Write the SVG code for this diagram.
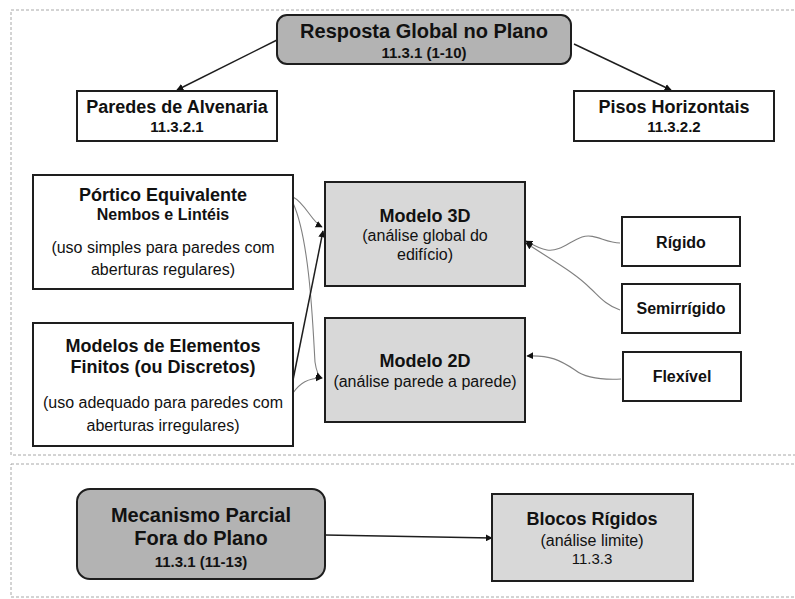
<svg xmlns="http://www.w3.org/2000/svg" width="795" height="599" viewBox="0 0 795 599">
<defs>
<style>
.frame{fill:none;stroke:#a8a8a8;stroke-width:1;stroke-dasharray:3 2}
.box{stroke:#1e1e1e;stroke-width:2}
.w{fill:#ffffff}
.g1{fill:#b3b3b3}
.g2{fill:#d8d8d8}
text{font-family:"Liberation Sans",Arial,sans-serif;fill:#111;text-anchor:middle}
.b{font-weight:bold}
.main{stroke:#1e1e1e;stroke-width:1.5;fill:none}
.thin{stroke:#808080;stroke-width:1.1;fill:none}
</style>
<marker id="ah" viewBox="0 0 10 10" refX="9" refY="5" markerWidth="7" markerHeight="7" markerUnits="userSpaceOnUse" orient="auto">
<path d="M0,0 L10,5 L0,10 z" fill="#111"/>
</marker>
</defs>
<rect width="795" height="599" fill="#ffffff"/>
<rect class="frame" x="11" y="10" width="800" height="445"/>
<rect class="frame" x="11" y="464" width="800" height="133"/>

<g id="connectors">
<path class="main" d="M277,40 L177,90" marker-end="url(#ah)"/>
<path class="main" d="M574,44 L671,90" marker-end="url(#ah)"/>
<path class="thin" d="M293,197 C305,203 312,222 322,227" marker-end="url(#ah)"/>
<path class="thin" d="M293,203 C310,240 313,330 315,362 Q317,376 322,378" marker-end="url(#ah)"/>
<path class="main" d="M293,380 L323,231" marker-end="url(#ah)"/>
<path class="thin" d="M293,393 C300,383 308,378 322,378" marker-end="url(#ah)"/>
<path class="thin" d="M620,243 C605,243 595,233 582,237 C570,241 560,252 547,250 C540,249 533,245 526,241" marker-end="url(#ah)"/>
<path class="thin" d="M620,310 C605,305 598,295 590,288 C575,273 555,262 526,243" marker-end="url(#ah)"/>
<path class="thin" d="M621,379 C600,380 585,378 575,370 C560,360 550,355 527,356" marker-end="url(#ah)"/>
<path class="main" d="M325,535 L492,538" marker-end="url(#ah)"/>
</g>

<g id="resposta">
<rect class="box g1" x="277" y="15" width="294" height="49" rx="10"/>
<text class="b" x="424" y="38" font-size="20">Resposta Global no Plano</text>
<text class="b" x="424" y="58" font-size="15">11.3.1 (1-10)</text>
</g>
<g id="paredes">
<rect class="box w" x="77" y="91" width="200" height="50"/>
<text class="b" x="177" y="113" font-size="18">Paredes de Alvenaria</text>
<text class="b" x="177" y="132" font-size="15">11.3.2.1</text>
</g>
<g id="pisos">
<rect class="box w" x="574" y="91" width="200" height="50"/>
<text class="b" x="674" y="113" font-size="18">Pisos Horizontais</text>
<text class="b" x="674" y="132" font-size="15">11.3.2.2</text>
</g>
<g id="portico">
<rect class="box w" x="33" y="175" width="260" height="114"/>
<text class="b" x="163" y="201" font-size="18">Pórtico Equivalente</text>
<text class="b" x="163" y="220" font-size="16">Nembos e Lintéis</text>
<text x="163" y="253" font-size="16">(uso simples para paredes com</text>
<text x="163" y="275" font-size="16">aberturas regulares)</text>
</g>
<g id="elementos">
<rect class="box w" x="33" y="323" width="260" height="123"/>
<text class="b" x="163" y="352" font-size="18">Modelos de Elementos</text>
<text class="b" x="163" y="373" font-size="18">Finitos (ou Discretos)</text>
<text x="163" y="408" font-size="16">(uso adequado para paredes com</text>
<text x="163" y="431" font-size="16">aberturas irregulares)</text>
</g>
<g id="modelo3d">
<rect class="box g2" x="325" y="182" width="200" height="104"/>
<text class="b" x="425" y="222" font-size="18">Modelo 3D</text>
<text x="425" y="241" font-size="16">(análise global do</text>
<text x="425" y="260" font-size="16">edifício)</text>
</g>
<g id="modelo2d">
<rect class="box g2" x="325" y="318" width="200" height="104"/>
<text class="b" x="425" y="367" font-size="18">Modelo 2D</text>
<text x="425" y="387" font-size="16">(análise parede a parede)</text>
</g>
<g id="rigido">
<rect class="box w" x="622" y="217" width="118" height="49"/>
<text class="b" x="681" y="248" font-size="16">Rígido</text>
</g>
<g id="semirrigido">
<rect class="box w" x="622" y="284" width="118" height="49"/>
<text class="b" x="681" y="314" font-size="16">Semirrígido</text>
</g>
<g id="flexivel">
<rect class="box w" x="623" y="352" width="118" height="49"/>
<text class="b" x="682" y="382" font-size="16">Flexível</text>
</g>
<g id="mecanismo">
<rect class="box g1" x="77" y="489" width="248" height="90" rx="13"/>
<text class="b" x="201" y="522" font-size="20">Mecanismo Parcial</text>
<text class="b" x="201" y="545" font-size="20">Fora do Plano</text>
<text class="b" x="201" y="567" font-size="15">11.3.1 (11-13)</text>
</g>
<g id="blocos">
<rect class="box g2" x="492" y="494" width="201" height="87"/>
<text class="b" x="592" y="525" font-size="18">Blocos Rígidos</text>
<text x="592" y="546" font-size="16">(análise limite)</text>
<text x="592" y="564" font-size="15">11.3.3</text>
</g>
</svg>
